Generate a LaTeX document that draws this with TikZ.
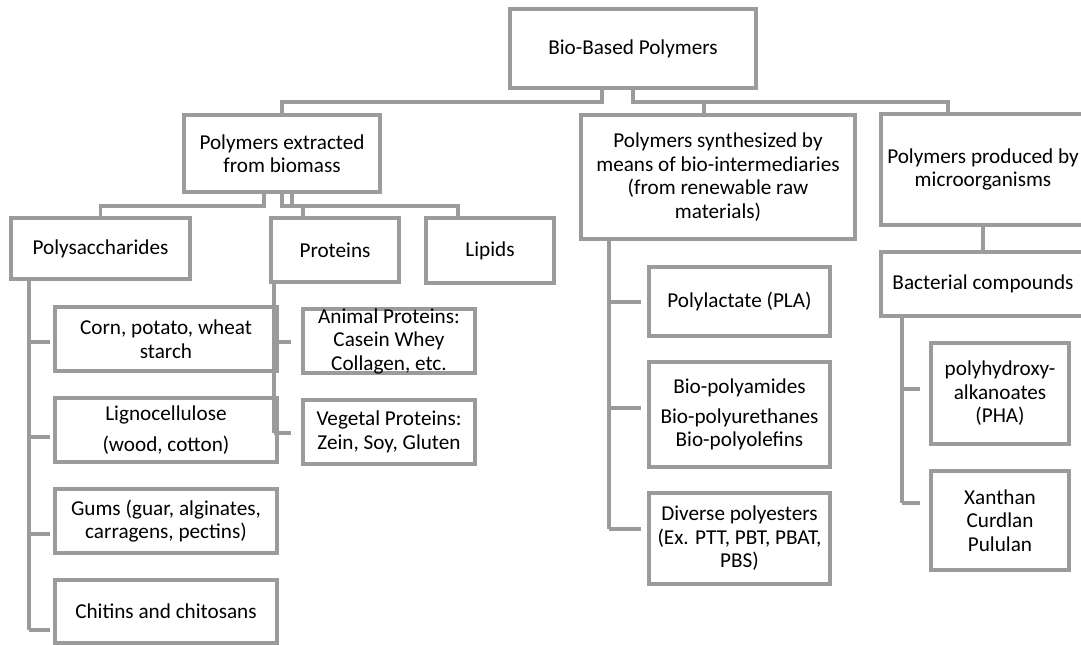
\documentclass[tikz,border=0pt]{standalone}
\usepackage{fontspec}
\setmainfont{Carlito}
\definecolor{linegray}{RGB}{155,155,155}

\begin{document}
\begin{tikzpicture}[x=0.75pt,y=-0.75pt,
    box/.style 2 args={draw=linegray,line width=2.3pt,minimum width=#1*0.75pt,
      minimum height=#2*0.75pt,inner sep=0pt,align=center,
      font=\fontsize{15.9}{17.6}\selectfont},
    link/.style={draw=linegray,line width=2.3pt}]
  \useasboundingbox (0,0) rectangle (1081,644);

  % top levels
  \node[box={246}{79}] (root) at (633,48.5) {Bio-Based Polymers};
  \node[box={196}{77}] (extr) at (282,153.5) {Polymers extracted\\from biomass};
  \node[box={274}{124}] (synth) at (718,177) {Polymers synthesized by\\means of bio-intermediaries\\(from renewable raw\\materials)};
  \node[box={204}{111}] (micro) at (983,169.5) {Polymers produced by\\microorganisms};

  % extracted from biomass
  \node[box={179}{61}] (poly) at (100.5,248.5) {Polysaccharides};
  \node[box={128}{64}] (prot) at (335,250) {Proteins};
  \node[box={128}{65}] (lip) at (490,250.5) {Lipids};
  \node[box={222}{64}] (corn) at (166,339) {Corn, potato, wheat\\starch};
  \node[box={222}{64}] (ligno) at (166,430) {Lignocellulose\\[6pt](wood, cotton)};
  \node[box={222}{64}] (gums) at (166,521) {Gums (guar, alginates,\\carragens, pectins)};
  \node[box={222}{63}] (chit) at (166,611.5) {Chitins and chitosans};
  \node[box={172}{64},inner ysep=-3pt] (anim) at (389,341) {Animal Proteins:\\Casein Whey\\Collagen, etc.};
  \node[box={172}{64}] (veg) at (389,432) {Vegetal Proteins:\\Zein, Soy, Gluten};

  % synthesized
  \node[box={181}{69}] (pla) at (739.5,301.5) {Polylactate (PLA)};
  \node[box={181}{105}] (biop) at (739.5,414.5) {Bio-polyamides\\[4.5pt]Bio-polyurethanes\\Bio-polyolefins};
  \node[box={181}{91}] (dive) at (739.5,538.5) {Diverse polyesters\\(Ex. PTT, PBT, PBAT,\\PBS)};

  % microorganisms
  \node[box={204}{64}] (bact) at (983,284) {Bacterial compounds};
  \node[box={138}{101}] (pha) at (1000,393.5) {polyhydroxy-\\alkanoates\\(PHA)};
  \node[box={138}{99}] (xan) at (1000,520.5) {Xanthan\\Curdlan\\Pululan};

  % root connectors
  \coordinate (rj) at (602,102);
  \coordinate (sj) at (704,102);
  \coordinate (mj) at (948,102);
  \draw[link] (root.south -| rj) -- (rj) -| (extr.north);
  \draw[link] (root.south) |- (mj) -- (micro.north -| mj);
  \draw[link] (sj) -- (synth.north -| sj);

  % extracted connectors
  \coordinate (ej) at (264,206);
  \coordinate (pj) at (303,206);
  \coordinate (lk) at (292,206);
  \coordinate (lj) at (458,206);
  \draw[link] (extr.south -| ej) -- (ej) -| (poly.north);
  \draw[link] (extr.south) |- (pj) -- (prot.north -| pj);
  \draw[link] (extr.south -| lk) |- (lj) -- (lip.north -| lj);

  % spines
  \foreach \n/\y [count=\i] in {corn/342,ligno/437,gums/534,chit/630} {
    \coordinate (ps\i) at (29,\y);
    \draw[link,shorten >=2.25pt] (ps\i) -- (\n.west |- ps\i);
  }
  \draw[link] (poly.south -| ps1) -- (ps4);

  \foreach \n/\y [count=\i] in {anim/342,veg/433} {
    \coordinate (pr\i) at (274,\y);
    \draw[link,shorten >=7.5pt] (pr\i) -- (\n.west |- pr\i);
  }
  \draw[link] (prot.south -| pr1) -- (pr2);

  \foreach \n/\y [count=\i] in {pla/302,biop/408,dive/529} {
    \coordinate (sy\i) at (609,\y);
    \draw[link,shorten >=4.5pt] (sy\i) -- (\n.west |- sy\i);
  }
  \draw[link] (synth.south -| sy1) -- (sy3);

  \draw[link] (micro.south) -- (bact.north);
  \foreach \n/\y [count=\i] in {pha/389,xan/503} {
    \coordinate (bc\i) at (902,\y);
    \draw[link,shorten >=6.75pt] (bc\i) -- (\n.west |- bc\i);
  }
  \draw[link] (bact.south -| bc1) -- (bc2);
\end{tikzpicture}
\end{document}
